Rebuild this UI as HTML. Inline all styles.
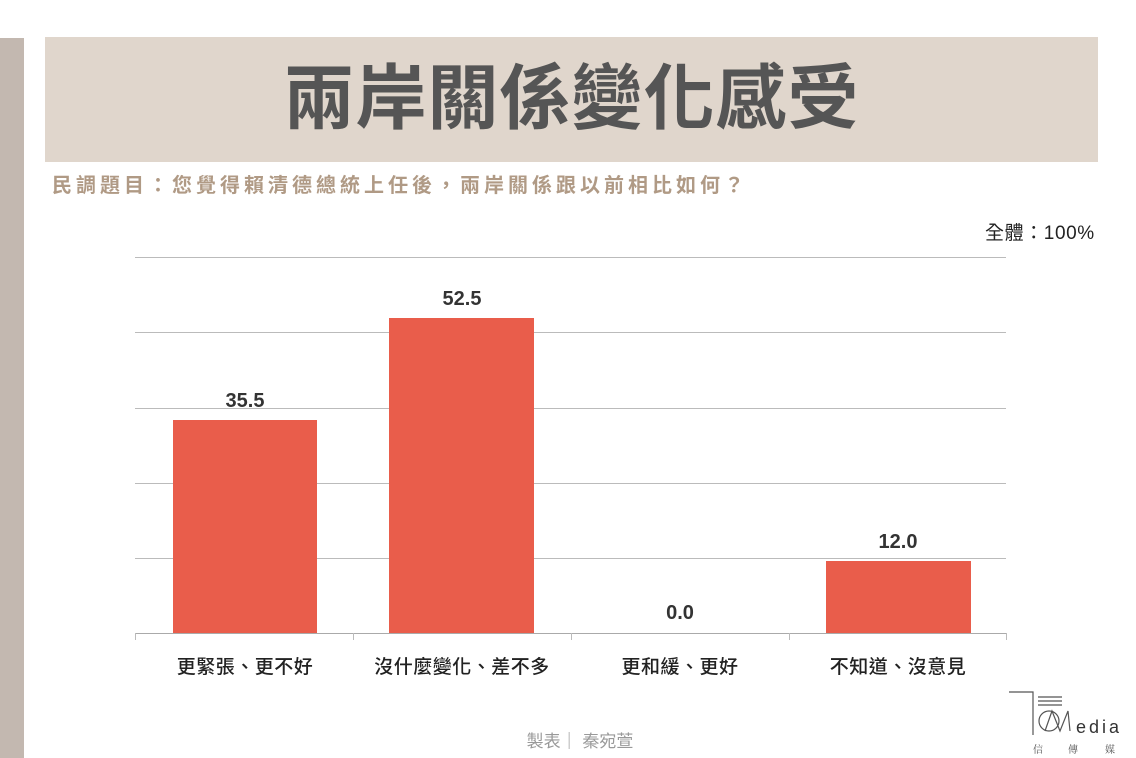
<!DOCTYPE html>
<html><head><meta charset="utf-8"><style>
body{margin:0;width:1136px;height:758px;background:#fff;position:relative;overflow:hidden;font-family:"Liberation Sans","Noto Sans CJK TC",sans-serif;}
.a{position:absolute;}
</style></head><body>
<div class="a" style="left:0;top:38px;width:24px;height:720px;background:#c3b8b0"></div>
<div class="a" style="left:45px;top:37px;width:1053px;height:125px;background:#e0d6cc"></div>
<div class="a" style="left:45px;top:52px;width:1053px;text-align:center;font-size:71px;font-weight:bold;color:#555;line-height:95px;letter-spacing:1px">兩岸關係變化感受</div>
<div class="a" style="left:52px;top:172px;font-size:20px;font-weight:bold;color:#b09a85;line-height:28px;letter-spacing:4px">民調題目：您覺得賴清德總統上任後，兩岸關係跟以前相比如何？</div>
<div class="a" style="left:985px;top:221px;font-size:19px;color:#222;line-height:26px;letter-spacing:0.6px">全體：100%</div>
<svg class="a" style="left:0;top:0" width="1136" height="758">
<g stroke="#bbb" stroke-width="1">
<line x1="135" y1="257.5" x2="1006" y2="257.5"/>
<line x1="135" y1="332.5" x2="1006" y2="332.5"/>
<line x1="135" y1="408.5" x2="1006" y2="408.5"/>
<line x1="135" y1="483.5" x2="1006" y2="483.5"/>
<line x1="135" y1="558.5" x2="1006" y2="558.5"/>
<line x1="135" y1="633.5" x2="1006" y2="633.5" stroke="#aaa"/>
<line x1="135.5" y1="633" x2="135.5" y2="640"/>
<line x1="353.5" y1="633" x2="353.5" y2="640"/>
<line x1="571.5" y1="633" x2="571.5" y2="640"/>
<line x1="789.5" y1="633" x2="789.5" y2="640"/>
<line x1="1006.5" y1="633" x2="1006.5" y2="640"/>
</g>
<g fill="#e95d4b">
<rect x="173" y="420" width="144" height="213"/>
<rect x="389" y="318" width="145" height="315"/>
<rect x="826" y="561" width="145" height="72"/>
</g>
<g font-family="Liberation Sans, sans-serif" font-weight="bold" font-size="20" fill="#333" text-anchor="middle">
<text x="245" y="407">35.5</text>
<text x="462" y="305">52.5</text>
<text x="680" y="619">0.0</text>
<text x="898" y="548">12.0</text>
</g>
<g font-family="Liberation Sans, Noto Sans CJK TC, sans-serif" font-size="19" font-weight="500" fill="#222" text-anchor="middle" letter-spacing="0.5">
<text x="245" y="673">更緊張、更不好</text>
<text x="462" y="673">沒什麼變化、差不多</text>
<text x="680" y="673">更和緩、更好</text>
<text x="898" y="673">不知道、沒意見</text>
</g>
<text x="580" y="747" text-anchor="middle" font-family="Liberation Sans, Noto Sans CJK TC, sans-serif" font-size="17" fill="#999">製表｜ 秦宛萱</text>
<g stroke="#555" fill="none" stroke-width="1.2">
<polyline points="1009,692 1033,692 1033,735"/>
<line x1="1038" y1="697" x2="1062" y2="697"/><line x1="1038" y1="701" x2="1062" y2="701"/><line x1="1038" y1="705" x2="1062" y2="705"/>
<circle cx="1049" cy="721" r="10"/>
<polyline points="1045,731 1052,711 1060,731 1068,711 1070,731"/>
</g>
<text x="1076" y="733" font-family="Liberation Sans, sans-serif" font-size="18" fill="#333" letter-spacing="3">edia</text>
<g font-family="Noto Serif CJK SC, serif" font-size="10" fill="#555"><text x="1033" y="753">信</text><text x="1068" y="753">傳</text><text x="1105" y="753">媒</text></g>
</svg>
</body></html>
